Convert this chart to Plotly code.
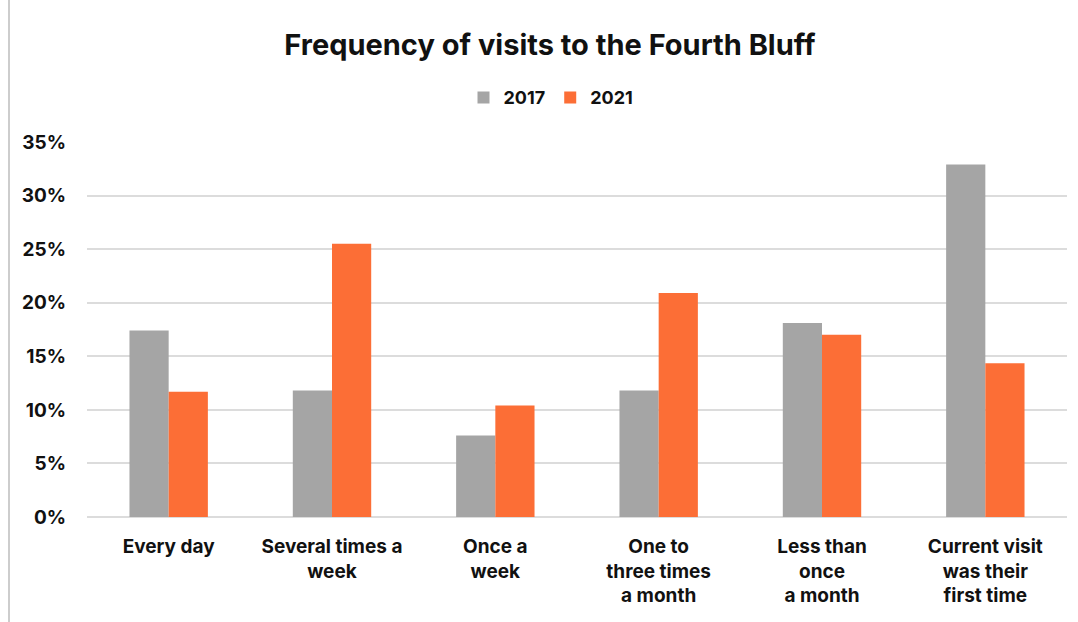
import plotly.graph_objects as go

categories = [
    "Every day",
    "Several times a<br>week",
    "Once a<br>week",
    "One to<br>three times<br>a month",
    "Less than<br>once<br>a month",
    "Current visit<br>was their<br>first time",
]
years = ["2017", "2021"]
share_2017 = [17.4, 11.8, 7.6, 11.8, 18.1, 32.9]
share_2021 = [11.7, 25.5, 10.4, 20.9, 17.0, 14.35]
y_ticks = [0, 5, 10, 15, 20, 25, 30, 35]
y_tick_labels = [f"{v}%" for v in y_ticks]

colors = {"2017": "#A5A5A5", "2021": "#FC6E36"}
font_family = "Inter"

fig = go.Figure()
for year, vals in zip(years, [share_2017, share_2021]):
    fig.add_trace(go.Bar(
        x=categories, y=vals, name=year,
        marker=dict(color=colors[year], line=dict(width=0)),
        hoverinfo="skip",
    ))

fig.update_layout(
    width=1078, height=622,
    margin=dict(l=87, r=11, t=142, b=105),
    paper_bgcolor="white", plot_bgcolor="white",
    barmode="group", bargap=0.52, bargroupgap=0,
    title=dict(
        text="<b>Frequency of visits to the Fourth Bluff</b>",
        x=550 / 1078, xref="container", xanchor="center",
        y=1 - 45 / 622, yref="container", yanchor="middle",
        font=dict(family=font_family, size=29, color="#111111"),
    ),
    legend=dict(
        orientation="h", x=(551 - 87) / 980, xanchor="center", xref="paper",
        y=1.118, yanchor="middle",
        font=dict(family=font_family, size=18, color="#111111", weight="bold"),
        itemwidth=30, traceorder="normal",
        itemsizing="constant",
    ),
    font=dict(family=font_family, color="#111111"),
    showlegend=True,
)

fig.update_xaxes(
    showgrid=False, showline=False, zeroline=False,
    tickfont=dict(family=font_family, size=19, color="#111111", weight="bold"),
    ticks="", ticklabelstandoff=16,
)
fig.update_yaxes(
    range=[0, 35], tickvals=y_ticks, ticktext=y_tick_labels,
    showgrid=True, gridcolor="#DCDCDC", gridwidth=1.5,
    zeroline=True, zerolinecolor="#DCDCDC", zerolinewidth=1.5,
    showline=False, ticks="",
    tickfont=dict(family=font_family, size=19, color="#111111", weight="bold"),
    ticklabelstandoff=20,
)

# thin frame line on the left edge of the page
fig.add_shape(
    type="line", xref="paper", yref="paper",
    x0=(9 - 87) / 980, x1=(9 - 87) / 980, y0=-105 / 375, y1=1 + 142 / 375,
    line=dict(color="#BDBDBD", width=1.5),
)

fig.write_html("out.html")
